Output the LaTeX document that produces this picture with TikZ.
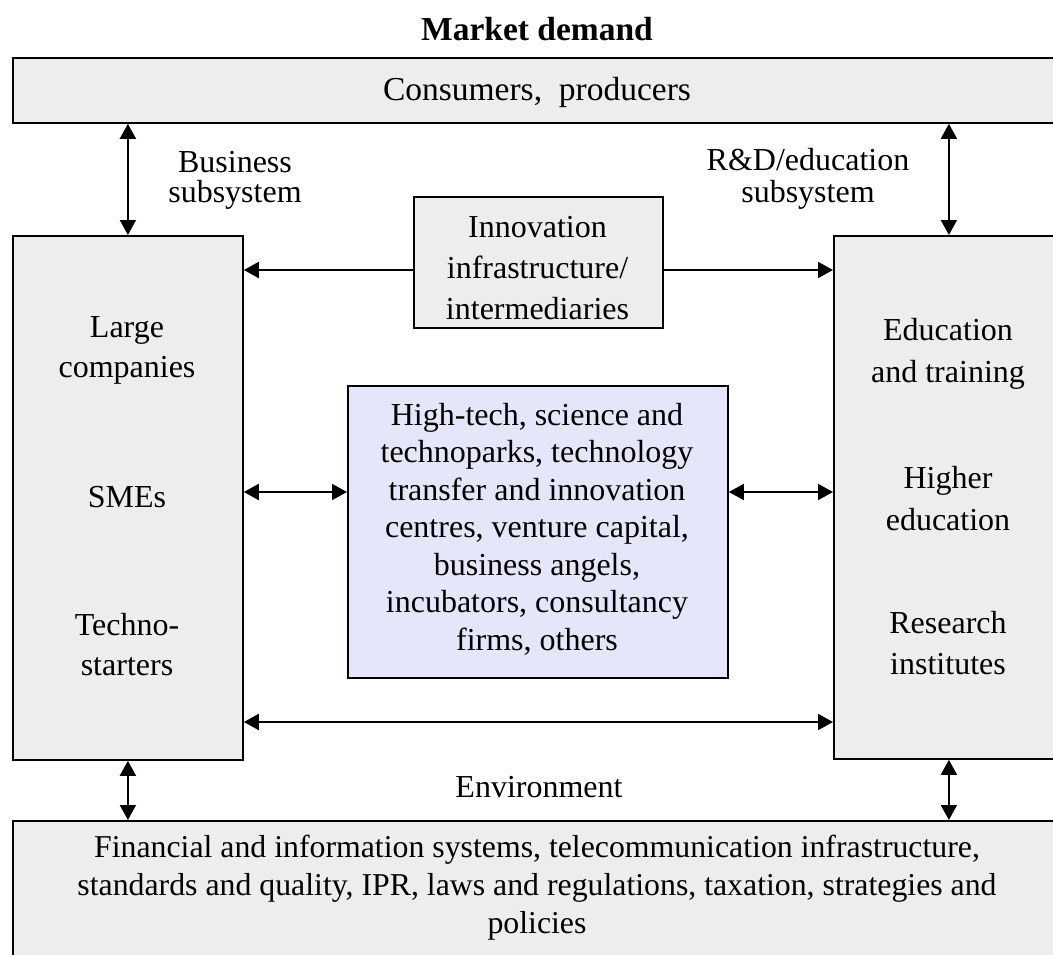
\documentclass[tikz,border=0pt]{standalone}
\usepackage{fontspec}
\setmainfont{Liberation Serif}
\usetikzlibrary{arrows.meta}
\definecolor{boxgray}{RGB}{237,237,237}
\definecolor{boxblue}{RGB}{230,230,250}
\begin{document}
\begin{tikzpicture}[x=1pt,y=-1pt,
  >={Triangle[length=15pt,width=16pt]},
  box/.style={draw=black, line width=1.8pt, fill=boxgray, inner sep=0pt, anchor=north west},
  bluebox/.style={box, fill=boxblue},
  txt/.style={font=\fontsize{32}{38}\selectfont, align=center, inner sep=0pt, anchor=north},
  conn/.style={line width=1.8pt}]
\useasboundingbox (0,0) rectangle (1053,954);
\clip (0,0) rectangle (1053,954);
\fill[white] (0,0) rectangle (1053,954);

% boxes
\node[box, minimum width=1100pt, minimum height=65pt] (top) at (12,57) {};
\node[box, minimum width=230pt, minimum height=524pt] (lbox) at (12,235) {};
\node[box, minimum width=230pt, minimum height=523pt] (rbox) at (833,235) {};
\node[box, minimum width=249pt, minimum height=131pt] (innov) at (413,196) {};
\node[bluebox, minimum width=380pt, minimum height=292pt] (blue) at (347,385) {};
\node[box, minimum width=1100pt, minimum height=200pt] (bot) at (12,820) {};

% levels
\coordinate (yI) at (0,270);
\coordinate (yS) at (0,492);
\coordinate (yB) at (0,722);

% connectors
\draw[conn,<->] (lbox.north) -- (lbox.north |- top.south);
\draw[conn,<->] (rbox.north) -- (rbox.north |- top.south);
\draw[conn,->] (innov.west |- yI) -- (lbox.east |- yI);
\draw[conn,->] (innov.east |- yI) -- (rbox.west |- yI);
\draw[conn,<->] (lbox.east |- yS) -- (blue.west |- yS);
\draw[conn,<->] (blue.east |- yS) -- (rbox.west |- yS);
\draw[conn,<->] (lbox.east |- yB) -- (rbox.west |- yB);
\draw[conn,<->] (lbox.south) -- (lbox.south |- bot.north);
\draw[conn,<->] (rbox.south) -- (rbox.south |- bot.north);

% texts
\node[txt, font=\bfseries\fontsize{33.5}{38}\selectfont] (tmarket) at (537,17) {Market demand};
\node[txt, font=\fontsize{33.5}{38}\selectfont] (tcons) at (537,77) {Consumers,\ \ producers};
\node[txt, font=\fontsize{32}{30}\selectfont] (tbus) at (235,151) {Business\\subsystem};
\node[txt, font=\fontsize{32}{32}\selectfont] (trd) at (808,148) {R\&D/education\\subsystem};
\node[txt, font=\fontsize{32}{41}\selectfont] (tinnov) at (537.5,216) {Innovation\\infrastructure/\\intermediaries};
\node[txt, font=\fontsize{32}{40}\selectfont] (tlarge) at (127,316) {Large\\companies};
\node[txt] (tsme) at (127,486) {SMEs};
\node[txt, font=\fontsize{32}{40}\selectfont] (ttech) at (127,613) {Techno-\\starters};
\node[txt, font=\fontsize{32}{42}\selectfont] (tedu) at (948,318) {Education\\and training};
\node[txt, font=\fontsize{32}{42}\selectfont] (thigh) at (948,466) {Higher\\education};
\node[txt, font=\fontsize{32}{41}\selectfont] (tres) at (948,611) {Research\\institutes};
\node[txt, font=\fontsize{32}{37.5}\selectfont] (tblue) at (537,403) {High-tech, science and\\technoparks, technology\\transfer and innovation\\centres, venture capital,\\business angels,\\incubators, consultancy\\firms, others};
\node[txt] (tenv) at (539,776) {Environment};
\node[txt, font=\fontsize{31.8}{38}\selectfont] (tbot) at (537,835) {Financial and information systems, telecommunication infrastructure,\\standards and quality, IPR, laws and regulations, taxation, strategies and\\policies};
\end{tikzpicture}
\end{document}
